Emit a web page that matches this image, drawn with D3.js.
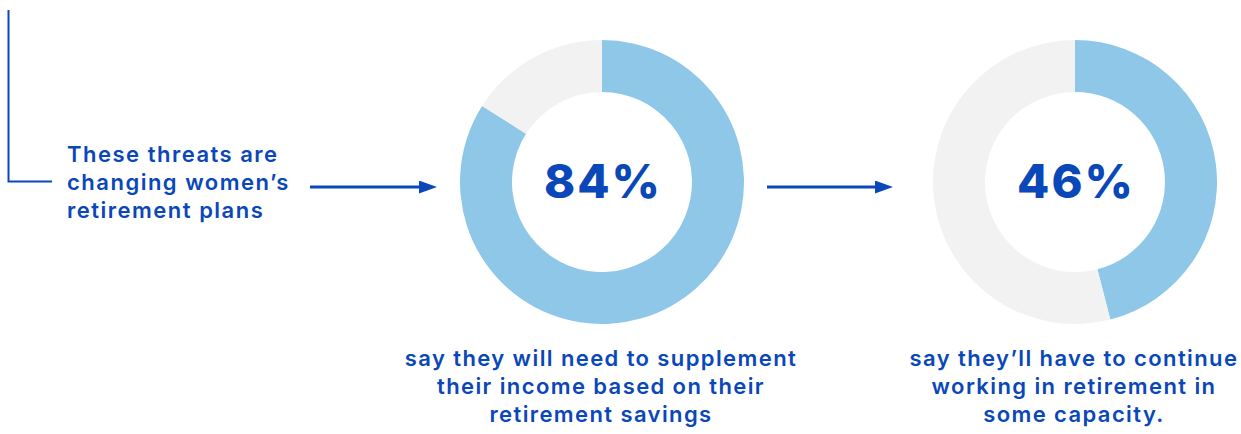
<!DOCTYPE html>
<html lang="en">
<head>
<meta charset="UTF-8">
<title>Women's retirement plans</title>
<script src="https://d3js.org/d3.v7.min.js"></script>
<style>
  body { margin: 0; background: #fff; }
  svg text { font-family: "Inter", "Noto Sans", sans-serif; fill: #0a47b8; }
</style>
</head>
<body>
<div id="chart"></div>
<script>
// data
var percents = [84, 46];
var bigLabels = ["84%", "46%"];
var captions = [
  ["say they will need to supplement", "their income based on their", "retirement savings"],
  ["say they\u2019ll have to continue", "working in retirement in", "some capacity."]
];
var introLines = ["These threats are", "changing women\u2019s", "retirement plans"];

var W = 1241, H = 434;
var blue = "#0a47b8", lightBlue = "#8fc7e8", grey = "#f2f2f2";

var svg = d3.select("#chart").append("svg")
  .attr("width", W).attr("height", H);

svg.append("defs").append("marker")
  .attr("id", "head")
  .attr("viewBox", "0 0 18 13")
  .attr("refX", 0).attr("refY", 6.5)
  .attr("markerWidth", 18).attr("markerHeight", 13)
  .attr("markerUnits", "userSpaceOnUse")
  .attr("orient", "auto")
  .append("path").attr("d", "M0,0 L18,6.5 L0,13 Z").attr("fill", blue);

// bracket at left
svg.append("path")
  .attr("d", "M8.5,10 V181.5 H52")
  .attr("fill", "none").attr("stroke", blue).attr("stroke-width", 2);

// intro text
svg.append("text")
  .attr("x", 67).attr("y", 162)
  .style("font-size", "22px").style("font-weight", 600).style("letter-spacing", "1.5px")
  .selectAll("tspan").data(introLines).join("tspan")
  .attr("x", 67).attr("dy", function(d, i) { return i ? 28 : 0; })
  .text(function(d) { return d; });

// arrows
var arrows = [[310, 419], [767, 875]];
svg.selectAll(".arrow").data(arrows).join("line")
  .attr("class", "arrow")
  .attr("x1", function(d) { return d[0]; }).attr("x2", function(d) { return d[1]; })
  .attr("y1", 187).attr("y2", 187)
  .attr("stroke", blue).attr("stroke-width", 3)
  .attr("marker-end", "url(#head)");

// donuts
var x = d3.scalePoint().domain(d3.range(percents.length)).range([602, 1075]);
var pie = d3.pie().sort(null).value(function(d) { return d; });
var arc = d3.arc().innerRadius(90).outerRadius(142);

var g = svg.selectAll(".donut").data(percents).join("g")
  .attr("class", "donut")
  .attr("transform", function(d, i) { return "translate(" + x(i) + ",182)"; });

g.selectAll("path").data(function(d) { return pie([d, 100 - d]); }).join("path")
  .attr("d", arc)
  .attr("fill", function(d, i) { return i === 0 ? lightBlue : grey; });

g.append("text")
  .attr("text-anchor", "middle").attr("x", 1).attr("y", 16)
  .style("font-size", "47px").style("font-weight", 800).style("letter-spacing", "2px")
  .text(function(d, i) { return bigLabels[i]; });

svg.selectAll(".caption").data(captions).join("text")
  .attr("class", "caption")
  .attr("text-anchor", "middle")
  .attr("y", 366)
  .style("font-size", "22px").style("font-weight", 600).style("letter-spacing", "1.4px")
  .each(function(lines, i) {
    d3.select(this).selectAll("tspan").data(lines).join("tspan")
      .attr("x", x(i) - 1).attr("dy", function(d, j) { return j ? 28 : 0; })
      .text(function(d) { return d; });
  });
</script>
</body>
</html>
